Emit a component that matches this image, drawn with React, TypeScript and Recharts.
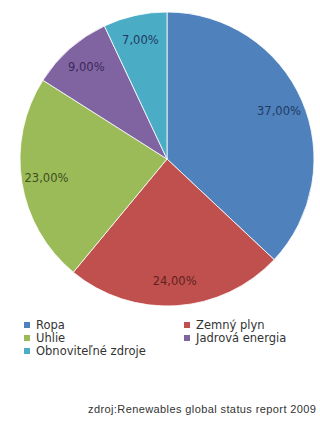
import React from "react";
import { PieChart, Pie, Cell, Legend } from "recharts";

const categories = ["Ropa", "Zemný plyn", "Uhlie", "Jadrová energia", "Obnoviteľné zdroje"];
const shares = [37, 24, 23, 9, 7];
const sliceColors = ["#4F81BD", "#C0504D", "#9BBB59", "#8064A2", "#4BACC6"];
const labelColors = ["#1F3A63", "#5E2220", "#3E4F1E", "#3A2A55", "#1F3A63"];
const sourceText = "zdroj:Renewables global status report 2009";

const data = categories.map((name, i) => ({ name, value: shares[i] }));

const RADIAN = Math.PI / 180;

const renderLabel = (props: any) => {
  const { cx, cy, midAngle, outerRadius, value, index } = props;
  const r = outerRadius * 0.83;
  const x = cx + r * Math.cos(-midAngle * RADIAN);
  const y = cy + r * Math.sin(-midAngle * RADIAN);
  return (
    <text
      x={x}
      y={y}
      fill={labelColors[index]}
      textAnchor="middle"
      dominantBaseline="central"
      fontFamily="DejaVu Sans"
      fontSize={11.5}
    >
      {value.toFixed(2).replace(".", ",") + "%"}
    </text>
  );
};

const LegendContent = (props: any) => {
  const payload = [...(props.payload || [])].sort(
    (a: any, b: any) => categories.indexOf(a.value) - categories.indexOf(b.value)
  );
  return (
    <div
      style={{
        display: "grid",
        gridTemplateColumns: "160px 140px",
        rowGap: 1,
        fontFamily: "DejaVu Sans",
        fontSize: 11.5,
        color: "#333",
        lineHeight: "12px",
      }}
    >
      {payload.map((entry: any, i: number) => (
        <div key={i} style={{ display: "flex", alignItems: "center", whiteSpace: "nowrap" }}>
          <span
            style={{
              display: "inline-block",
              width: 6,
              height: 6,
              background: entry.color,
              marginRight: 6,
            }}
          />
          <span>{entry.value}</span>
        </div>
      ))}
    </div>
  );
};

export default function App() {
  return (
    <div style={{ position: "absolute", left: 0, top: 0, width: 320, height: 423, background: "#fff" }}>
      <PieChart width={320} height={423} margin={{ top: 0, right: 0, bottom: 0, left: 0 }}>
        <Pie
          data={data}
          dataKey="value"
          nameKey="name"
          cx={167}
          cy={159}
          outerRadius={147}
          startAngle={90}
          endAngle={-270}
          stroke="#ffffff"
          strokeWidth={0.8}
          label={renderLabel}
          labelLine={false}
          isAnimationActive={false}
        >
          {data.map((d, i) => (
            <Cell key={d.name} fill={sliceColors[i]} />
          ))}
        </Pie>
        <Legend
          content={<LegendContent />}
          wrapperStyle={{ position: "absolute", left: 24, top: 319, width: 300 }}
        />
      </PieChart>
      <div
        style={{
          position: "absolute",
          left: 88,
          top: 403,
          fontFamily: "Liberation Sans",
          fontSize: 11,
          color: "#333",
          whiteSpace: "nowrap",
          lineHeight: "13px",
          letterSpacing: 0.4,
        }}
      >
        {sourceText}
      </div>
    </div>
  );
}
